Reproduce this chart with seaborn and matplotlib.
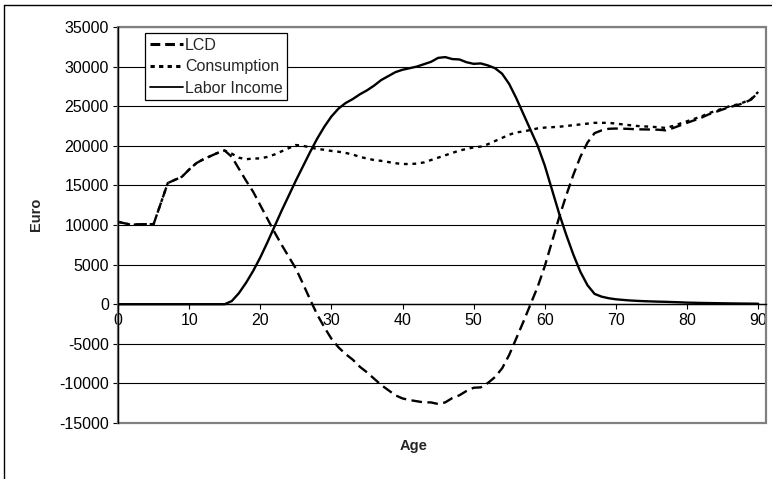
import pandas as pd
import matplotlib
matplotlib.use("Agg")
import matplotlib.pyplot as plt
import seaborn as sns
from matplotlib.patches import Rectangle
from matplotlib.lines import Line2D

# Values (Euro per age)
ages = list(range(0, 91))

consumption = [10400, 10200, 10000, 10100, 10100, 10100, 12700, 15300, 15700, 16100,
               17000, 17800, 18300, 18700, 19100, 19400, 19000, 18500, 18300, 18400,
               18400, 18600, 18900, 19300, 19700, 20100, 20000, 19800, 19600, 19500,
               19350, 19250, 19100, 18900, 18600, 18400, 18200, 18100, 17950, 17800,
               17700, 17700, 17750, 17900, 18200, 18500, 18800, 19100, 19400, 19600,
               19800, 19900, 20200, 20600, 21000, 21400, 21700, 21800, 22000, 22200,
               22300, 22350, 22400, 22500, 22600, 22700, 22800, 22900, 22900, 22900,
               22800, 22700, 22600, 22500, 22450, 22400, 22350, 22250, 22500, 22800,
               23100, 23400, 23700, 24100, 24400, 24700, 25000, 25200, 25500, 25900,
               26800]

labor_income = [0, 0, 0, 0, 0, 0, 0, 0, 0, 0,
                0, 0, 0, 0, 0, 0, 400, 1400, 2700, 4200,
                5900, 7800, 9800, 11800, 13700, 15600, 17400, 19200, 20900, 22400,
                23700, 24700, 25400, 25900, 26500, 27000, 27600, 28300, 28800, 29300,
                29600, 29800, 30000, 30300, 30600, 31100, 31200, 30950, 30900, 30550,
                30350, 30400, 30150, 29800, 29100, 27800, 26000, 24000, 22000, 20000,
                17500, 14500, 11500, 8800, 6300, 4100, 2400, 1300, 950, 750,
                620, 540, 470, 420, 380, 350, 320, 300, 270, 240,
                200, 180, 160, 145, 130, 115, 100, 90, 80, 70,
                60]

lcd = [10400, 10200, 10000, 10100, 10100, 10100, 12700, 15300, 15700, 16100,
       17000, 17800, 18300, 18700, 19100, 19400, 18600, 17100, 15600, 14200,
       12500, 10800, 9100, 7500, 6000, 4500, 2600, 600, -1300, -2900,
       -4350, -5450, -6300, -7000, -7900, -8600, -9400, -10200, -10850, -11500,
       -11900, -12100, -12250, -12400, -12400, -12600, -12400, -11850, -11500, -10950,
       -10550, -10500, -9950, -9200, -8100, -6400, -4300, -2200, 0, 2200,
       4800, 7850, 10900, 13700, 16300, 18600, 20400, 21600, 21950, 22150,
       22180, 22160, 22130, 22080, 22070, 22050, 22030, 21950, 22230, 22560,
       22900, 23220, 23540, 23955, 24270, 24585, 24900, 25110, 25420, 25830,
       26740]

series_names = ["LCD", "Consumption", "Labor Income"]

df = pd.concat([
    pd.DataFrame({"Age": ages, "Euro": lcd, "series": "LCD"}),
    pd.DataFrame({"Age": ages, "Euro": consumption, "series": "Consumption"}),
    pd.DataFrame({"Age": ages, "Euro": labor_income, "series": "Labor Income"}),
])

sns.set_style("white")
plt.rcParams['font.family'] = ['Liberation Sans', 'DejaVu Sans']
plt.rcParams['axes.unicode_minus'] = False

fig = plt.figure(figsize=(7.72, 4.79), dpi=100)
ax = fig.add_axes([118 / 772, 56 / 479, 648 / 772, 396 / 479])

line_dashes = {"LCD": (4.5, 2.3), "Consumption": (1.6, 2.0), "Labor Income": ""}
sns.lineplot(data=df, x="Age", y="Euro", hue="series", style="series",
             hue_order=series_names, style_order=series_names,
             palette={s: "black" for s in series_names}, dashes=line_dashes,
             estimator=None, errorbar=None, linewidth=1.7, legend=False, ax=ax)

ax.set_xlim(0, 91.1)
ax.set_ylim(-15000, 35000)
ax.set_xticks(range(0, 91, 10))
ax.set_yticks(range(-15000, 35001, 5000))
ax.set_xlabel("")
ax.set_ylabel("")

# Excel-like axes: value axis on the left, category axis crossing at 0
ax.spines["bottom"].set_position(("data", 0))
for side in ["left", "bottom"]:
    ax.spines[side].set_color("black")
    ax.spines[side].set_linewidth(1.0)
ax.spines["top"].set_visible(False)
ax.spines["right"].set_visible(False)
ax.tick_params(axis="both", direction="out", length=3.6, width=0.8, color="black",
               labelsize=11.5, pad=3, labelcolor="black")
ax.tick_params(axis="x", bottom=True)
ax.tick_params(axis="y", left=True)

ax.grid(axis="y", color="black", linewidth=0.8)
ax.set_axisbelow(True)
ax.add_patch(Rectangle((0, 0), 1, 1, transform=ax.transAxes, fill=False,
                       edgecolor="#808080", linewidth=1.6, clip_on=False, zorder=2.4))

handles = [
    Line2D([], [], color="black", linewidth=2.2, dashes=(3.2, 1.6)),
    Line2D([], [], color="black", linewidth=2.2, dashes=(1.4, 1.4)),
    Line2D([], [], color="black", linewidth=1.3),
]
leg = ax.legend(handles, series_names, loc="upper left", bbox_to_anchor=(0.0416, 0.985),
                borderaxespad=0, fontsize=11.5, handlelength=2.1, handletextpad=0.1,
                labelspacing=0.4, borderpad=0.3, fancybox=False, framealpha=1,
                edgecolor="black")
leg.get_frame().set_linewidth(0.9)

fig.text(36 / 772, 1 - 214 / 479, "Euro", rotation=90, fontsize=10.5,
         fontweight="bold", ha="center", va="center")
fig.text(414 / 772, 1 - 446 / 479, "Age", fontsize=10.5,
         fontweight="bold", ha="center", va="center")

# outer chart frame
fig.add_artist(Line2D([4 / 772, 4 / 772], [0, 1 - 5 / 479], color="black", linewidth=1.0))
fig.add_artist(Line2D([4 / 772, 1], [1 - 5 / 479, 1 - 5 / 479], color="black", linewidth=1.0))

fig.savefig("out.png", dpi=100)
